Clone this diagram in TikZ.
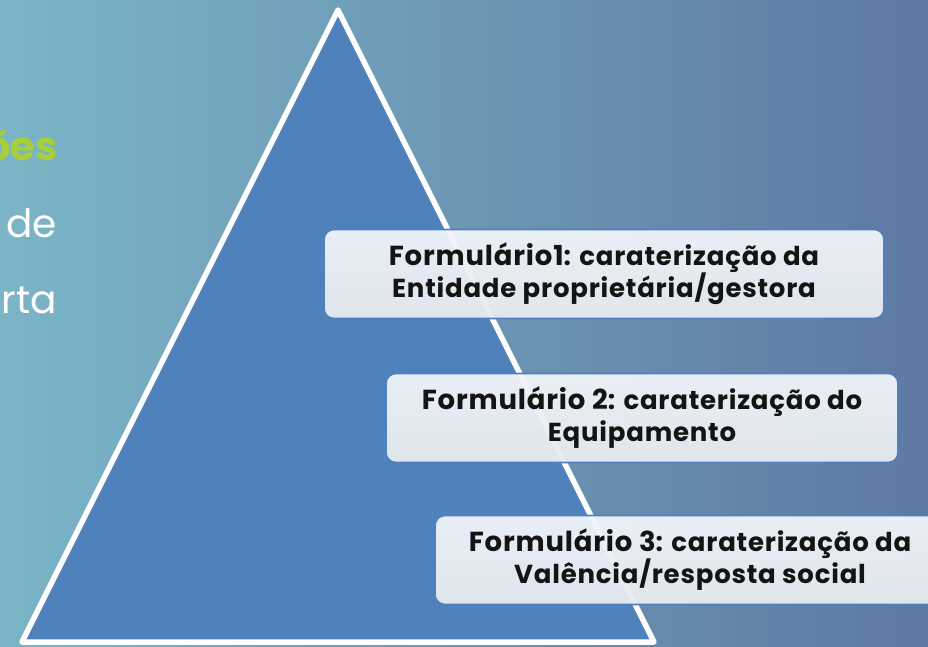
\documentclass[tikz,border=0pt]{standalone}
\usepackage{fontspec}
\setmainfont{Poppins}
\newfontfamily\boxfont{Poppins}[LetterSpace=3]
\definecolor{bgL}{HTML}{7BB5C6}
\definecolor{bgM}{HTML}{6C9AB4}
\definecolor{bgR}{HTML}{5D79A3}
\definecolor{triblue}{HTML}{4F81BD}
\definecolor{boxtop}{HTML}{F1F4FA}
\definecolor{boxbot}{HTML}{E7EBEF}
\definecolor{lime}{HTML}{A8CF38}
\definecolor{ink}{HTML}{141414}
\tikzset{
  formbox/.style={rounded corners=10pt, draw=triblue, line width=1.6pt,
    top color=boxtop, bottom color=boxbot, fill opacity=0.95, text opacity=1,
    minimum height=89pt, align=center, text=ink, inner sep=0pt,
    font=\boxfont\fontsize{26}{32}\selectfont\bfseries},
  sidetext/.style={anchor=base east, inner sep=0pt, text=white,
    font=\fontsize{39}{39}\selectfont}
}
\newcommand{\fbig}[1]{{\fontsize{27.5}{32}\selectfont\bfseries #1}}
\begin{document}
\begin{tikzpicture}[x=1pt,y=-1pt]
\useasboundingbox (0,0) rectangle (928,646);
\shade[left color=bgL, middle color=bgM, right color=bgR] (0,0) rectangle (928,646);
\begin{scope}
\clip (0,0) rectangle (928,646);
\draw[white, line width=5.5pt, fill=triblue, line join=round]
  (338,10) -- (654,642) -- (22,642) -- cycle;
\node[formbox, minimum width=560pt] (f1) at (604,274)
  {\fbig{Formulário1}: caraterização da\\Entidade proprietária/gestora};
\node[formbox, minimum width=512pt] (f2) at (642,418)
  {\fbig{Formulário 2}: caraterização do\\Equipamento};
\node[formbox, minimum width=510pt] (f3) at (690,560)
  {\fbig{Formulário 3}: caraterização da\\Valência/resposta social};
\node[sidetext, text=lime, font=\fontsize{40}{40}\selectfont\bfseries] (t1) at (58,160) {ões};
\end{scope}
\node[sidetext] (t2) at (57,237) {de};
\node[sidetext] (t3) at (57,313) {rta};
\end{tikzpicture}
\end{document}
